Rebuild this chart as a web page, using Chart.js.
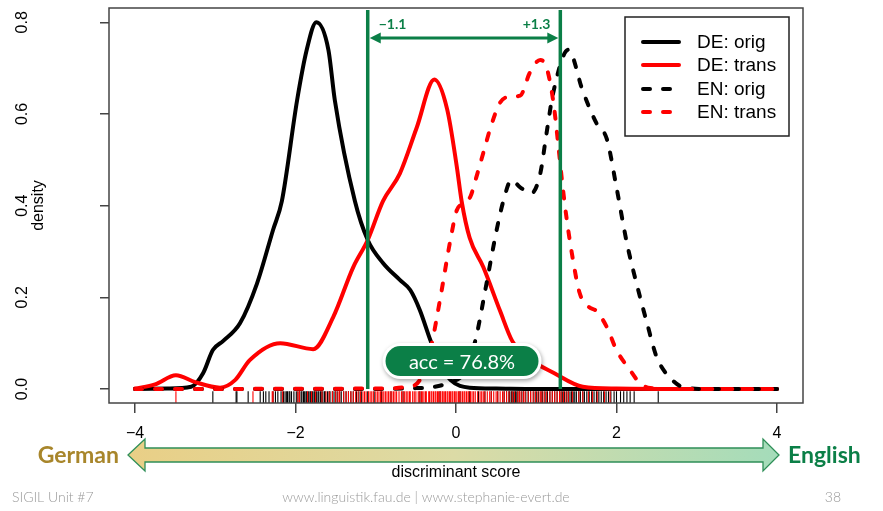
<!DOCTYPE html>
<html>
<head>
<meta charset="utf-8">
<script src="https://cdn.jsdelivr.net/npm/chart.js@4/dist/chart.umd.min.js"></script>
<style>
  html, body { margin: 0; padding: 0; background: #ffffff; }
  canvas { display: block; }
</style>
</head>
<body>
<canvas id="c" width="883" height="511"></canvas>
<script>
// ---- data -------------------------------------------------------------
const xTicks = [-4, -2, 0, 2, 4];
const yTicks = [0, 0.2, 0.4, 0.6, 0.8];
const seriesNames = ['DE: orig', 'DE: trans', 'EN: orig', 'EN: trans'];

// kernel density estimates of the discriminant score
const deOrigX = [-4, -3.6, -3.3, -3.15, -3.03, -2.9, -2.69, -2.48, -2.28, -2.17, -1.98, -1.86, -1.74, -1.59, -1.51, -1.26, -1.1, -0.91, -0.7, -0.57, -0.45, -0.32, -0.2, -0.07, 0.17, 0.5, 1, 2, 3, 4];
const deOrigY = [0, 0.001, 0.005, 0.035, 0.085, 0.105, 0.144, 0.23, 0.347, 0.41, 0.63, 0.74, 0.80, 0.74, 0.63, 0.41, 0.325, 0.275, 0.238, 0.216, 0.172, 0.107, 0.055, 0.02, 0.003, 0.001, 0, 0, 0, 0];

const deTransX = [-4, -3.75, -3.49, -3.25, -2.94, -2.75, -2.57, -2.19, -1.78, -1.53, -1.28, -1.1, -0.91, -0.7, -0.49, -0.27, -0.11, 0.01, 0.07, 0.17, 0.34, 0.55, 0.7, 0.9, 1.22, 1.58, 2.0, 3, 4];
const deTransY = [0.001, 0.01, 0.03, 0.015, 0.003, 0.02, 0.063, 0.10, 0.087, 0.157, 0.266, 0.325, 0.41, 0.47, 0.57, 0.675, 0.61, 0.485, 0.41, 0.33, 0.266, 0.17, 0.105, 0.068, 0.035, 0.005, 0.001, 0, 0];

const enOrigX = [-4, -1, -0.5, -0.3, -0.07, 0.1, 0.2, 0.26, 0.38, 0.51, 0.59, 0.69, 0.8, 0.94, 1.05, 1.13, 1.21, 1.4, 1.58, 1.75, 1.88, 2.0, 2.13, 2.25, 2.38, 2.5, 2.66, 2.87, 3.2, 4];
const enOrigY = [0, 0, 0.002, 0.004, 0.015, 0.035, 0.08, 0.12, 0.23, 0.35, 0.41, 0.456, 0.44, 0.427, 0.47, 0.56, 0.645, 0.74, 0.65, 0.58, 0.545, 0.44, 0.318, 0.23, 0.144, 0.07, 0.026, 0.002, 0, 0];

const enTransX = [-4, -1, -0.6, -0.45, -0.32, -0.2, -0.07, 0.01, 0.1, 0.18, 0.25, 0.34, 0.43, 0.55, 0.65, 0.8, 0.92, 1.05, 1.13, 1.21, 1.27, 1.33, 1.38, 1.44, 1.54, 1.65, 1.75, 1.88, 2.0, 2.17, 2.29, 2.42, 2.7, 4];
const enTransY = [0, 0.001, 0.005, 0.02, 0.085, 0.194, 0.325, 0.39, 0.405, 0.42, 0.46, 0.515, 0.57, 0.625, 0.637, 0.64, 0.69, 0.718, 0.70, 0.63, 0.54, 0.44, 0.37, 0.30, 0.21, 0.18, 0.17, 0.135, 0.085, 0.041, 0.013, 0.002, 0, 0];

// individual scores (rug): originals in black, translations in red
const rugOrig = [-3.03, -2.74, -2.73, -2.59, -2.44, -2.40, -2.37, -2.33, -2.28, -2.25, -2.22, -2.18, -2.15, -2.13, -2.11, -2.10, -2.08, -2.07, -2.05, -2.02, -1.99, -1.97, -1.95, -1.93, -1.92, -1.90, -1.89, -1.87, -1.86, -1.84, -1.82, -1.81, -1.79, -1.77, -1.76, -1.74, -1.72, -1.71, -1.69, -1.68, -1.66, -1.64, -1.63, -1.60, -1.58, -1.57, -1.54, -1.52, -1.50, -1.48, -1.45, -1.43, -1.40, -1.37, -1.34, -1.31, -1.28, -1.24, -1.21, -1.18, -1.10, -1.02, -0.93, -0.81, -0.66, -0.45, -0.20, 0.05, 0.17, 0.28, 0.36, 0.44, 0.52, 0.60, 0.63, 0.66, 0.67, 0.69, 0.70, 0.72, 0.74, 0.75, 0.77, 0.79, 0.82, 0.84, 0.87, 0.90, 0.93, 0.97, 1.00, 1.03, 1.06, 1.08, 1.11, 1.14, 1.17, 1.20, 1.23, 1.26, 1.29, 1.31, 1.33, 1.35, 1.38, 1.40, 1.42, 1.44, 1.46, 1.48, 1.50, 1.53, 1.55, 1.58, 1.60, 1.63, 1.66, 1.69, 1.72, 1.75, 1.78, 1.81, 1.84, 1.87, 1.90, 1.93, 1.97, 2.00, 2.05, 2.09, 2.13, 2.17, 2.22, 2.52];
const rugTrans = [-3.49, -2.53, -2.29, -2.28, -2.16, -1.97, -1.95, -1.85, -1.80, -1.75, -1.67, -1.62, -1.58, -1.54, -1.50, -1.47, -1.45, -1.40, -1.37, -1.34, -1.31, -1.28, -1.25, -1.22, -1.19, -1.16, -1.14, -1.12, -1.09, -1.07, -1.05, -1.03, -1.00, -0.98, -0.96, -0.94, -0.92, -0.90, -0.88, -0.86, -0.84, -0.82, -0.80, -0.78, -0.76, -0.74, -0.71, -0.68, -0.66, -0.64, -0.62, -0.60, -0.58, -0.57, -0.54, -0.52, -0.50, -0.47, -0.45, -0.43, -0.42, -0.40, -0.38, -0.37, -0.34, -0.33, -0.31, -0.30, -0.28, -0.26, -0.25, -0.23, -0.22, -0.20, -0.19, -0.17, -0.16, -0.14, -0.13, -0.11, -0.10, -0.08, -0.07, -0.05, -0.04, -0.02, -0.01, 0.01, 0.03, 0.04, 0.06, 0.08, 0.10, 0.11, 0.13, 0.15, 0.16, 0.18, 0.20, 0.22, 0.24, 0.27, 0.30, 0.32, 0.34, 0.36, 0.39, 0.42, 0.44, 0.47, 0.50, 0.52, 0.55, 0.58, 0.60, 0.63, 0.66, 0.70, 0.73, 0.77, 0.79, 0.81, 0.84, 0.86, 0.90, 0.93, 0.96, 0.99, 1.02, 1.05, 1.07, 1.10, 1.13, 1.17, 1.20, 1.23, 1.26, 1.29, 1.31, 1.34, 1.37, 1.40, 1.45, 1.53, 1.58, 1.65, 1.70, 1.76, 1.85, 1.92];

// decision thresholds and their labels
const cutoffs = [-1.1, 1.3];
const cutoffLabels = ['\u22121.1', '+1.3'];
const accuracyText = 'acc = 76.8%';

// ---- styling ----------------------------------------------------------
const GREEN = '#0b7f47';
const AXIS = '#444444';
const FONT = "'Liberation Sans', Arial, Helvetica, sans-serif";
const SLIDE_FONT = "Lato, 'Open Sans', sans-serif";

const pts = (xs, ys) => xs.map((x, i) => ({ x: x, y: ys[i] }));
const fmtMinus = v => (v < 0 ? '\u2212' + Math.abs(v) : String(v));

const curve = (label, xs, ys, color, dashed, order) => ({
  type: 'line', label: label, data: pts(xs, ys),
  borderColor: color, borderWidth: 4, pointRadius: 0,
  borderDash: dashed ? [7, 13] : [], borderCapStyle: 'round', borderJoinStyle: 'round',
  cubicInterpolationMode: 'monotone', fill: false, order: order, legendEntry: true
});

const RUG_Y = -0.018;
const rug = (vals, color) => ({
  type: 'scatter', data: vals.map(v => ({ x: v, y: RUG_Y })),
  pointStyle: 'line', rotation: 90, radius: 6, pointRadius: 6,
  borderColor: color, pointBorderColor: color, borderWidth: 1.1, pointBorderWidth: 1.1,
  showLine: false, order: 9
});

const CUT_TOP = 0.827;
const cutLine = v => ({
  type: 'line', data: [{ x: v, y: 0 }, { x: v, y: CUT_TOP }],
  borderColor: GREEN, borderWidth: 3.5, pointRadius: 0, order: 0
});

// ---- plugins ----------------------------------------------------------
const frame = {
  id: 'frame',
  afterDraw(chart) {
    const { ctx, chartArea: a } = chart;
    ctx.save();
    ctx.strokeStyle = AXIS; ctx.lineWidth = 1.5;
    ctx.strokeRect(a.left, a.top, a.right - a.left, a.bottom - a.top);
    ctx.restore();
  }
};

const thresholdArrow = {
  id: 'thresholdArrow',
  afterDatasetsDraw(chart) {
    const { ctx, scales: { x, y } } = chart;
    const x1 = x.getPixelForValue(cutoffs[0]) + 2;
    const x2 = x.getPixelForValue(cutoffs[1]) - 2;
    const ay = y.getPixelForValue(0.766);
    ctx.save();
    ctx.strokeStyle = GREEN; ctx.fillStyle = GREEN; ctx.lineWidth = 3;
    ctx.beginPath(); ctx.moveTo(x1 + 8, ay); ctx.lineTo(x2 - 8, ay); ctx.stroke();
    ctx.beginPath(); ctx.moveTo(x1, ay); ctx.lineTo(x1 + 11, ay - 5.5); ctx.lineTo(x1 + 11, ay + 5.5); ctx.closePath(); ctx.fill();
    ctx.beginPath(); ctx.moveTo(x2, ay); ctx.lineTo(x2 - 11, ay - 5.5); ctx.lineTo(x2 - 11, ay + 5.5); ctx.closePath(); ctx.fill();
    ctx.font = "bold 14px " + SLIDE_FONT;
    ctx.textBaseline = 'middle';
    ctx.textAlign = 'left';
    ctx.fillText(cutoffLabels[0], x1 + 9, ay - 13);
    ctx.textAlign = 'right';
    ctx.fillText(cutoffLabels[1], x2 - 8, ay - 13);
    ctx.restore();
  }
};

const accBadge = {
  id: 'accBadge',
  afterDatasetsDraw(chart) {
    const { ctx, scales: { x, y } } = chart;
    const cx = x.getPixelForValue(0.075), cy = y.getPixelForValue(0.061);
    const w = 159, h = 36, r = 18;
    const rr = (px, py, pw, ph, rad) => {
      ctx.beginPath();
      ctx.moveTo(px + rad, py);
      ctx.arcTo(px + pw, py, px + pw, py + ph, rad);
      ctx.arcTo(px + pw, py + ph, px, py + ph, rad);
      ctx.arcTo(px, py + ph, px, py, rad);
      ctx.arcTo(px, py, px + pw, py, rad);
      ctx.closePath();
    };
    ctx.save();
    ctx.shadowColor = 'rgba(0,0,0,0.35)'; ctx.shadowBlur = 4; ctx.shadowOffsetX = 1; ctx.shadowOffsetY = 2;
    ctx.fillStyle = '#ffffff';
    rr(cx - w / 2, cy - h / 2, w, h, r); ctx.fill();
    ctx.shadowColor = 'transparent';
    ctx.fillStyle = GREEN;
    rr(cx - w / 2 + 3, cy - h / 2 + 3, w - 6, h - 6, r - 3); ctx.fill();
    ctx.fillStyle = '#ffffff';
    ctx.font = "20px " + SLIDE_FONT;
    ctx.textAlign = 'center'; ctx.textBaseline = 'middle';
    ctx.fillText(accuracyText, cx, cy + 1);
    ctx.restore();
  }
};

const boxLegend = {
  id: 'boxLegend',
  afterDraw(chart) {
    const { ctx } = chart;
    const bx = 625, by = 17, bw = 164, bh = 119;
    ctx.save();
    ctx.fillStyle = '#ffffff'; ctx.fillRect(bx, by, bw, bh);
    ctx.strokeStyle = '#222222'; ctx.lineWidth = 1.5; ctx.strokeRect(bx, by, bw, bh);
    const entries = chart.data.datasets.filter(d => d.legendEntry);
    const rows = [42, 65, 89, 112];
    ctx.font = "19px " + FONT; ctx.textBaseline = 'middle'; ctx.textAlign = 'left';
    seriesNames.forEach((name, i) => {
      const ds = entries.find(d => d.label === name);
      const ry = rows[i];
      ctx.strokeStyle = ds.borderColor; ctx.lineWidth = 4; ctx.lineCap = 'round';
      ctx.setLineDash(ds.borderDash);
      ctx.beginPath(); ctx.moveTo(643, ry); ctx.lineTo(679, ry); ctx.stroke();
      ctx.setLineDash([]);
      ctx.fillStyle = '#000000';
      ctx.fillText(name, 697, ry + 1);
    });
    ctx.restore();
  }
};

const slideDecor = {
  id: 'slideDecor',
  afterDraw(chart) {
    const { ctx } = chart;
    ctx.save();
    // German <-> English direction arrow
    const g = ctx.createLinearGradient(128, 0, 779, 0);
    g.addColorStop(0, '#e9cf86');
    g.addColorStop(0.5, '#dcdba6');
    g.addColorStop(1, '#a4dcba');
    ctx.beginPath();
    ctx.moveTo(128, 455);
    ctx.lineTo(145, 439); ctx.lineTo(145, 448);
    ctx.lineTo(763, 448); ctx.lineTo(763, 439);
    ctx.lineTo(779, 455);
    ctx.lineTo(763, 471); ctx.lineTo(763, 462);
    ctx.lineTo(145, 462); ctx.lineTo(145, 471);
    ctx.closePath();
    ctx.fillStyle = g; ctx.fill();
    ctx.strokeStyle = '#2f8f58'; ctx.lineWidth = 1.3; ctx.stroke();

    ctx.font = "bold 23px " + SLIDE_FONT;
    ctx.textBaseline = 'alphabetic';
    ctx.textAlign = 'right'; ctx.fillStyle = '#a8862b';
    ctx.fillText('German', 119, 463);
    ctx.textAlign = 'left'; ctx.fillStyle = GREEN;
    ctx.fillText('English', 788, 463);

    // footer
    ctx.font = "300 14px " + SLIDE_FONT;
    ctx.fillStyle = '#9a9a9a';
    ctx.textBaseline = 'middle';
    ctx.textAlign = 'left'; ctx.fillText('SIGIL Unit #7', 12, 497);
    ctx.textAlign = 'center'; ctx.fillText('www.linguistik.fau.de | www.stephanie-evert.de', 426, 497);
    ctx.textAlign = 'right'; ctx.fillText('38', 841, 497);
    ctx.restore();
  }
};

// ---- chart ------------------------------------------------------------
new Chart(document.getElementById('c'), {
  type: 'line',
  data: {
    datasets: [
      cutLine(cutoffs[0]),
      cutLine(cutoffs[1]),
      curve(seriesNames[3], enTransX, enTransY, '#ff0000', true, 1),
      curve(seriesNames[2], enOrigX, enOrigY, '#000000', true, 2),
      curve(seriesNames[1], deTransX, deTransY, '#ff0000', false, 3),
      curve(seriesNames[0], deOrigX, deOrigY, '#000000', false, 4),
      rug(rugTrans, '#ff0000'),
      rug(rugOrig, '#000000')
    ]
  },
  options: {
    responsive: false,
    devicePixelRatio: 1,
    animation: false,
    events: [],
    layout: { padding: { left: 0, right: 80, top: 8, bottom: 0 } },
    plugins: { legend: { display: false }, tooltip: { enabled: false } },
    scales: {
      x: {
        type: 'linear', position: 'bottom',
        min: -4.324, max: 4.324,
        afterBuildTicks: s => { s.ticks = xTicks.map(v => ({ value: v })); },
        afterFit: s => { s.height = 108; s.paddingLeft = 0; s.paddingRight = 0; },
        border: { display: false },
        grid: { drawOnChartArea: false, drawTicks: true, tickLength: 10, color: AXIS, lineWidth: 1.5 },
        ticks: { autoSkip: false, maxRotation: 0, padding: 11, color: '#000', font: { family: FONT, size: 16 },
                 callback: v => fmtMinus(v) },
        title: { display: true, text: 'discriminant score', color: '#000', font: { family: FONT, size: 16 },
                 padding: { top: 0, bottom: 29 } }
      },
      y: {
        type: 'linear', position: 'left',
        min: -0.0305, max: 0.8312,
        afterBuildTicks: s => { s.ticks = yTicks.map(v => ({ value: v })); },
        afterFit: s => { s.width = 109; s.paddingTop = 0; s.paddingBottom = 0; },
        border: { display: false },
        grid: { drawOnChartArea: false, drawTicks: true, tickLength: 9, color: AXIS, lineWidth: 1.5 },
        ticks: { autoSkip: false, minRotation: 90, maxRotation: 90, crossAlign: 'center', padding: 66,
                 color: '#000', font: { family: FONT, size: 16 }, callback: v => v.toFixed(1) },
        title: { display: true, text: 'density', color: '#000', font: { family: FONT, size: 16 },
                 padding: { top: 29.4, bottom: 0 } }
      }
    }
  },
  plugins: [frame, thresholdArrow, accBadge, boxLegend, slideDecor]
});
</script>
</body>
</html>
